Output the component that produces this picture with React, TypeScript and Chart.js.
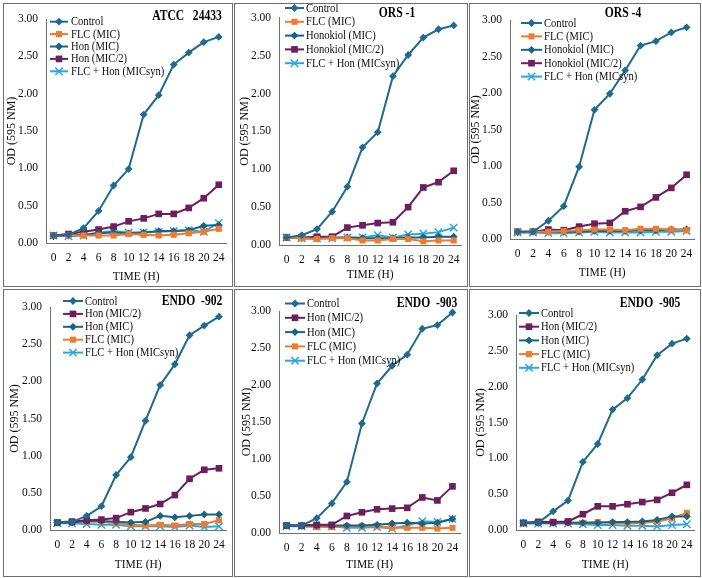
import React, { useEffect, useRef } from "react";
import { Chart, registerables } from "chart.js";

Chart.register(...registerables);

// Sampling times (h)
const hours = ["0", "2", "4", "6", "8", "10", "12", "14", "16", "18", "20", "24"];

// ATCC 24433
const atccControl = [0.10, 0.11, 0.20, 0.43, 0.77, 0.99, 1.72, 1.98, 2.39, 2.55, 2.69, 2.76];
const atccFlc = [0.10, 0.10, 0.10, 0.10, 0.10, 0.12, 0.11, 0.10, 0.11, 0.13, 0.15, 0.19];
const atccHonMic = [0.09, 0.10, 0.11, 0.13, 0.14, 0.13, 0.14, 0.16, 0.16, 0.17, 0.23, 0.24];
const atccHonHalf = [0.10, 0.12, 0.15, 0.18, 0.22, 0.29, 0.33, 0.39, 0.39, 0.47, 0.60, 0.78];
const atccCombo = [0.10, 0.09, 0.10, 0.14, 0.16, 0.14, 0.14, 0.15, 0.16, 0.17, 0.15, 0.27];

// ORS-1
const ors1Control = [0.10, 0.13, 0.21, 0.44, 0.77, 1.29, 1.49, 2.23, 2.51, 2.74, 2.85, 2.90];
const ors1Flc = [0.10, 0.09, 0.08, 0.09, 0.09, 0.06, 0.06, 0.08, 0.08, 0.05, 0.06, 0.06];
const ors1HonMic = [0.10, 0.09, 0.09, 0.10, 0.10, 0.09, 0.09, 0.09, 0.10, 0.10, 0.11, 0.11];
const ors1HonHalf = [0.10, 0.10, 0.11, 0.11, 0.23, 0.26, 0.29, 0.30, 0.50, 0.76, 0.83, 0.98];
const ors1Combo = [0.10, 0.09, 0.09, 0.09, 0.10, 0.10, 0.13, 0.10, 0.14, 0.15, 0.17, 0.23];

// ORS-4
const ors4Control = [0.10, 0.10, 0.25, 0.45, 0.99, 1.77, 1.99, 2.31, 2.65, 2.71, 2.83, 2.90];
const ors4Flc = [0.10, 0.10, 0.10, 0.11, 0.12, 0.13, 0.13, 0.12, 0.14, 0.14, 0.13, 0.12];
const ors4HonMic = [0.09, 0.10, 0.10, 0.10, 0.10, 0.11, 0.11, 0.11, 0.12, 0.12, 0.13, 0.13];
const ors4HonHalf = [0.10, 0.10, 0.13, 0.12, 0.17, 0.21, 0.22, 0.38, 0.44, 0.57, 0.70, 0.88];
const ors4Combo = [0.09, 0.09, 0.08, 0.08, 0.09, 0.10, 0.09, 0.09, 0.09, 0.10, 0.10, 0.11];

// ENDO-902
const e902Control = [0.10, 0.11, 0.19, 0.32, 0.74, 0.98, 1.47, 1.95, 2.23, 2.62, 2.75, 2.87];
const e902HonHalf = [0.10, 0.11, 0.13, 0.14, 0.16, 0.24, 0.29, 0.35, 0.47, 0.69, 0.81, 0.83];
const e902HonMic = [0.10, 0.10, 0.12, 0.12, 0.11, 0.10, 0.11, 0.19, 0.17, 0.19, 0.21, 0.21];
const e902Flc = [0.10, 0.12, 0.11, 0.11, 0.09, 0.07, 0.06, 0.07, 0.06, 0.08, 0.08, 0.13];
const e902Combo = [0.09, 0.09, 0.08, 0.07, 0.07, 0.05, 0.05, 0.05, 0.04, 0.06, 0.04, 0.05];

// ENDO-903
const e903Control = [0.10, 0.10, 0.20, 0.40, 0.69, 1.48, 2.02, 2.26, 2.41, 2.76, 2.81, 2.98];
const e903HonHalf = [0.10, 0.10, 0.11, 0.11, 0.23, 0.28, 0.32, 0.33, 0.34, 0.48, 0.44, 0.63];
const e903HonMic = [0.10, 0.10, 0.10, 0.10, 0.10, 0.10, 0.11, 0.13, 0.14, 0.13, 0.14, 0.19];
const e903Flc = [0.10, 0.09, 0.08, 0.08, 0.09, 0.09, 0.09, 0.07, 0.07, 0.07, 0.06, 0.07];
const e903Combo = [0.09, 0.09, 0.09, 0.09, 0.07, 0.07, 0.08, 0.06, 0.10, 0.16, 0.15, 0.19];

// ENDO-905
const e905Control = [0.10, 0.10, 0.26, 0.41, 0.95, 1.20, 1.68, 1.84, 2.10, 2.44, 2.60, 2.67];
const e905HonHalf = [0.10, 0.11, 0.11, 0.12, 0.22, 0.33, 0.33, 0.36, 0.39, 0.42, 0.52, 0.63];
const e905HonMic = [0.10, 0.10, 0.10, 0.10, 0.10, 0.10, 0.11, 0.11, 0.12, 0.14, 0.19, 0.19];
const e905Flc = [0.09, 0.12, 0.11, 0.10, 0.10, 0.11, 0.10, 0.09, 0.10, 0.12, 0.16, 0.24];
const e905Combo = [0.09, 0.09, 0.09, 0.09, 0.08, 0.07, 0.07, 0.06, 0.06, 0.05, 0.07, 0.08];

const SERIF = "'Liberation Serif', 'Times New Roman', serif";
const AXIS_COLOR = "#6f6f6f";
const TEXT_COLOR = "#0d0d0d";

type Kind = "control" | "flc" | "honMic" | "honHalf" | "combo";

const STYLE: Record<Kind, { color: string; point: string; radius: number }> = {
  control: { color: "#1F6A8F", point: "rectRot", radius: 3.9 },
  flc: { color: "#EF7B2E", point: "rect", radius: 4.3 },
  honMic: { color: "#1B6382", point: "rectRot", radius: 3.9 },
  honHalf: { color: "#6C1F5C", point: "rect", radius: 4.7 },
  combo: { color: "#2CA6DF", point: "crossRot", radius: 5.2 },
};

type Series = { label: string; data: number[]; kind: Kind };

type Panel = {
  title: string;
  titleX: number;
  titleY: number;
  x: number;
  y: number;
  w: number;
  h: number;
  area: { l: number; r: number; t: number; b: number };
  yTitleX: number;
  xTitleY: number;
  legend: { x0: number; x1: number; tx: number; y0: number; dy: number };
  series: Series[];
};

const panels: Panel[] = [
  {
    title: "ATCC   24433", titleX: 184, titleY: 13,
    x: 3, y: 3, w: 230, h: 284,
    area: { l: 43, r: 224, t: 16, b: 240 }, yTitleX: 9, xTitleY: 274,
    legend: { x0: 47, x1: 65, tx: 68, y0: 18.7, dy: 12.4 },
    series: [
      { label: "Control", data: atccControl, kind: "control" },
      { label: "FLC (MIC)", data: atccFlc, kind: "flc" },
      { label: "Hon (MIC)", data: atccHonMic, kind: "honMic" },
      { label: "Hon (MIC/2)", data: atccHonHalf, kind: "honHalf" },
      { label: "FLC + Hon (MICsyn)", data: atccCombo, kind: "combo" },
    ],
  },
  {
    title: "ORS -1", titleX: 163, titleY: 10,
    x: 234, y: 3, w: 234, h: 284,
    area: { l: 45, r: 228, t: 13, b: 242 }, yTitleX: 11, xTitleY: 272,
    legend: { x0: 51, x1: 70, tx: 72, y0: 5, dy: 13.8 },
    series: [
      { label: "Control", data: ors1Control, kind: "control" },
      { label: "FLC (MIC)", data: ors1Flc, kind: "flc" },
      { label: "Honokiol (MIC)", data: ors1HonMic, kind: "honMic" },
      { label: "Honokiol (MIC/2)", data: ors1HonHalf, kind: "honHalf" },
      { label: "FLC + Hon (MICsyn)", data: ors1Combo, kind: "combo" },
    ],
  },
  {
    title: "ORS -4", titleX: 154, titleY: 10,
    x: 469, y: 3, w: 232, h: 284,
    area: { l: 41, r: 227, t: 17, b: 236 }, yTitleX: 7, xTitleY: 270,
    legend: { x0: 52, x1: 73, tx: 75, y0: 20, dy: 13.4 },
    series: [
      { label: "Control", data: ors4Control, kind: "control" },
      { label: "FLC (MIC)", data: ors4Flc, kind: "flc" },
      { label: "Honokiol (MIC)", data: ors4HonMic, kind: "honMic" },
      { label: "Honokiol (MIC/2)", data: ors4HonHalf, kind: "honHalf" },
      { label: "FLC + Hon (MICsyn)", data: ors4Combo, kind: "combo" },
    ],
  },
  {
    title: "ENDO  -902", titleX: 189, titleY: 12,
    x: 3, y: 289, w: 230, h: 288,
    area: { l: 47, r: 227, t: 18, b: 241 }, yTitleX: 12, xTitleY: 276,
    legend: { x0: 60, x1: 80, tx: 82, y0: 12, dy: 12.9 },
    series: [
      { label: "Control", data: e902Control, kind: "control" },
      { label: "Hon (MIC/2)", data: e902HonHalf, kind: "honHalf" },
      { label: "Hon (MIC)", data: e902HonMic, kind: "honMic" },
      { label: "FLC (MIC)", data: e902Flc, kind: "flc" },
      { label: "FLC + Hon (MICsyn)", data: e902Combo, kind: "combo" },
    ],
  },
  {
    title: "ENDO  -903", titleX: 193, titleY: 14,
    x: 234, y: 289, w: 234, h: 288,
    area: { l: 45, r: 226, t: 22, b: 244 }, yTitleX: 13, xTitleY: 276,
    legend: { x0: 51, x1: 71, tx: 73, y0: 14.5, dy: 14.3 },
    series: [
      { label: "Control", data: e903Control, kind: "control" },
      { label: "Hon (MIC/2)", data: e903HonHalf, kind: "honHalf" },
      { label: "Hon (MIC)", data: e903HonMic, kind: "honMic" },
      { label: "FLC (MIC)", data: e903Flc, kind: "flc" },
      { label: "FLC + Hon (MICsyn)", data: e903Combo, kind: "combo" },
    ],
  },
  {
    title: "ENDO  -905", titleX: 181, titleY: 14,
    x: 469, y: 289, w: 232, h: 288,
    area: { l: 47, r: 227, t: 26, b: 241 }, yTitleX: 12, xTitleY: 276,
    legend: { x0: 50, x1: 70, tx: 72, y0: 24, dy: 13.7 },
    series: [
      { label: "Control", data: e905Control, kind: "control" },
      { label: "Hon (MIC/2)", data: e905HonHalf, kind: "honHalf" },
      { label: "Hon (MIC)", data: e905HonMic, kind: "honMic" },
      { label: "FLC (MIC)", data: e905Flc, kind: "flc" },
      { label: "FLC + Hon (MICsyn)", data: e905Combo, kind: "combo" },
    ],
  },
];

function drawMarker(ctx: CanvasRenderingContext2D, kind: Kind, x: number, y: number) {
  const s = STYLE[kind];
  ctx.fillStyle = s.color;
  ctx.strokeStyle = s.color;
  ctx.beginPath();
  if (s.point === "rectRot") {
    const r = s.radius;
    ctx.moveTo(x, y - r);
    ctx.lineTo(x + r, y);
    ctx.lineTo(x, y + r);
    ctx.lineTo(x - r, y);
    ctx.closePath();
    ctx.fill();
  } else if (s.point === "rect") {
    const h = s.radius * Math.SQRT1_2;
    ctx.rect(x - h, y - h, 2 * h, 2 * h);
    ctx.fill();
  } else {
    const h = s.radius * Math.SQRT1_2;
    ctx.lineWidth = 1.5;
    ctx.moveTo(x - h, y - h);
    ctx.lineTo(x + h, y + h);
    ctx.moveTo(x + h, y - h);
    ctx.lineTo(x - h, y + h);
    ctx.stroke();
  }
}

function GrowthPanel({ panel }: { panel: Panel }) {
  const ref = useRef<HTMLCanvasElement | null>(null);

  useEffect(() => {
    const canvas = ref.current;
    if (!canvas) return;
    const p = panel;
    const tickFont = { family: SERIF, size: 11.5 };
    const padLeft = p.yTitleX - 7.2;
    const yWidth = p.area.l - padLeft;
    const xBottom = p.xTitleY + 6.9;
    const xHeight = xBottom - p.area.b;

    // legend block and strain title drawn over the plot
    const decor = {
      id: "panelDecor",
      afterDraw(chart: any) {
        const ctx: CanvasRenderingContext2D = chart.ctx;
        ctx.save();
        p.series.forEach((s, i) => {
          const y = p.legend.y0 + i * p.legend.dy;
          ctx.strokeStyle = STYLE[s.kind].color;
          ctx.lineWidth = 2;
          ctx.beginPath();
          ctx.moveTo(p.legend.x0, y);
          ctx.lineTo(p.legend.x1, y);
          ctx.stroke();
          drawMarker(ctx, s.kind, (p.legend.x0 + p.legend.x1) / 2, y);
          ctx.save();
          ctx.translate(p.legend.tx, y);
          ctx.scale(0.92, 1);
          ctx.fillStyle = TEXT_COLOR;
          ctx.font = `11.5px ${SERIF}`;
          ctx.textAlign = "left";
          ctx.textBaseline = "middle";
          ctx.fillText(s.label, 0, 0.5);
          ctx.restore();
        });
        ctx.save();
        ctx.translate(p.titleX, p.titleY);
        ctx.scale(0.8, 1);
        ctx.fillStyle = "#000";
        ctx.font = `bold 14.5px ${SERIF}`;
        ctx.textAlign = "center";
        ctx.textBaseline = "middle";
        ctx.fillText(p.title, 0, 0);
        ctx.restore();
        ctx.restore();
      },
    };

    const chart = new Chart(canvas, {
      type: "line",
      data: {
        labels: hours,
        datasets: p.series.map((s) => {
          const st = STYLE[s.kind];
          return {
            label: s.label,
            data: s.data,
            borderColor: st.color,
            backgroundColor: st.color,
            borderWidth: 2,
            pointStyle: st.point as any,
            pointRadius: st.radius,
            pointBorderWidth: st.point === "crossRot" ? 1.5 : 0,
            pointBackgroundColor: st.color,
            pointBorderColor: st.color,
            tension: 0,
            clip: false as any,
          };
        }),
      },
      options: {
        responsive: false,
        animation: false,
        devicePixelRatio: 1,
        layout: {
          padding: {
            left: padLeft,
            top: p.area.t,
            right: p.w - p.area.r,
            bottom: p.h - xBottom,
          },
        },
        plugins: {
          legend: { display: false },
          tooltip: { enabled: false },
        },
        scales: {
          x: {
            type: "category",
            offset: true,
            grid: { display: false, drawTicks: false },
            border: { display: true, color: AXIS_COLOR, width: 1 },
            ticks: { font: tickFont, color: TEXT_COLOR, padding: 8, maxRotation: 0, autoSkip: false },
            title: { display: true, text: "TIME (H)", font: { family: SERIF, size: 11.5 }, color: TEXT_COLOR, padding: 0 },
            afterFit: (scale: any) => {
              scale.height = xHeight;
            },
          },
          y: {
            min: 0,
            max: 3,
            grid: { display: false, drawTicks: false },
            border: { display: true, color: AXIS_COLOR, width: 1 },
            ticks: {
              stepSize: 0.5,
              font: tickFont,
              color: TEXT_COLOR,
              padding: 8,
              callback: (v: any) => Number(v).toFixed(2),
            },
            title: { display: true, text: "OD (595 NM)", font: { family: SERIF, size: 12 }, color: TEXT_COLOR, padding: 0 },
            afterFit: (scale: any) => {
              scale.width = yWidth;
            },
          },
        },
      },
      plugins: [decor],
    });
    return () => chart.destroy();
  }, [panel]);

  return (
    <>
      <canvas
        ref={ref}
        width={panel.w}
        height={panel.h}
        style={{ position: "absolute", left: panel.x, top: panel.y, width: panel.w, height: panel.h }}
      />
      <div
        style={{
          position: "absolute",
          left: panel.x,
          top: panel.y,
          width: panel.w,
          height: panel.h,
          boxSizing: "border-box",
          border: "1px solid #6f6f6f",
          pointerEvents: "none",
        }}
      />
    </>
  );
}

export default function App() {
  return (
    <div
      style={{
        position: "absolute",
        left: 0,
        top: 0,
        width: 702,
        height: 578,
        background: "#ffffff",
        overflow: "hidden",
      }}
    >
      {panels.map((p) => (
        <GrowthPanel key={p.title} panel={p} />
      ))}
    </div>
  );
}
